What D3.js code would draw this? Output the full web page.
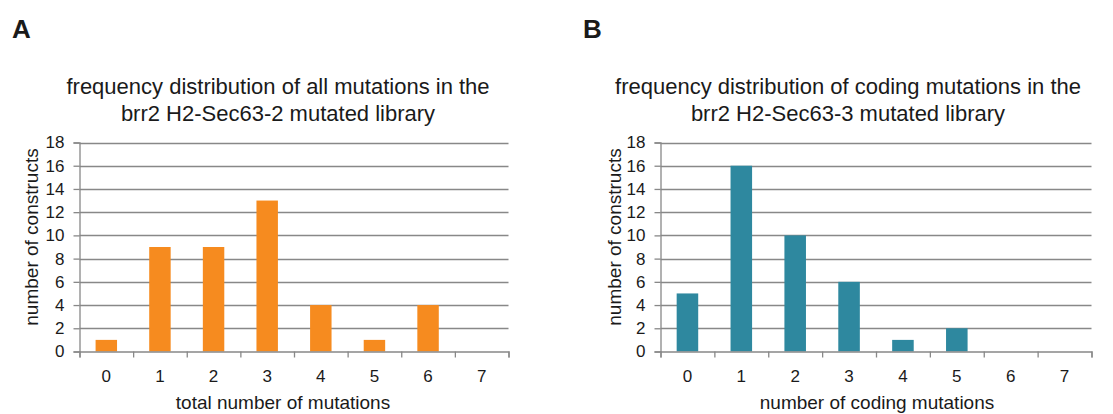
<!DOCTYPE html>
<html>
<head>
<meta charset="utf-8">
<script src="https://cdn.jsdelivr.net/npm/d3@7"></script>
<style>
  body { margin: 0; background: #fff; }
  text { font-family: "Liberation Sans", Arial, sans-serif; fill: #1a1a1a; }
</style>
</head>
<body>
<svg id="chart" width="1113" height="414"></svg>
<script>
// categories on the x axis (same for both panels)
const categories = ['0', '1', '2', '3', '4', '5', '6', '7'];
// panel A: all mutations, panel B: coding mutations
const allMutations = [1, 9, 9, 13, 4, 1, 4, 0];
const codingMutations = [5, 16, 10, 6, 1, 2, 0, 0];
const yTicks = [0, 2, 4, 6, 8, 10, 12, 14, 16, 18];

const svg = d3.select('#chart');

function drawPanel(opts) {
  const x = d3.scaleBand()
    .domain(opts.cats)
    .range([opts.left, opts.right])
    .paddingInner(0.6)
    .paddingOuter(0.3);
  // boundaries between categories, for the tick marks
  const xEdge = d3.scaleLinear()
    .domain([0, opts.cats.length])
    .range([opts.left, opts.right]);
  const y = d3.scaleLinear()
    .domain([0, 18])
    .range([351.5, 142.5]);

  const g = svg.append('g');

  // letter
  g.append('text')
    .attr('x', opts.letterX).attr('y', 38)
    .attr('font-size', 26).attr('font-weight', 'bold')
    .text(opts.letter);

  // title
  const t = g.append('text')
    .attr('text-anchor', 'middle')
    .attr('font-size', 22);
  t.append('tspan').attr('x', opts.titleX).attr('y', 94).text(opts.title[0]);
  t.append('tspan').attr('x', opts.titleX).attr('y', 121).text(opts.title[1]);

  // gridlines
  g.append('g')
    .selectAll('line')
    .data(yTicks.filter(d => d > 0))
    .join('line')
    .attr('x1', opts.left).attr('x2', opts.right)
    .attr('y1', d => Math.round(y(d)) + 0.5)
    .attr('y2', d => Math.round(y(d)) + 0.5)
    .attr('stroke', '#888')
    .attr('stroke-width', 1.3);

  // bars
  g.append('g')
    .attr('fill', opts.color)
    .selectAll('rect')
    .data(opts.values)
    .join('rect')
    .attr('x', (d, i) => x(opts.cats[i]))
    .attr('y', d => y(d))
    .attr('width', x.bandwidth())
    .attr('height', d => y(0) - y(d));

  // y axis
  const yAxis = g.append('g')
    .attr('transform', `translate(${opts.left},0)`)
    .call(d3.axisLeft(y).tickValues(yTicks).tickSize(6).tickPadding(9));
  yAxis.selectAll('text').attr('font-size', 17).style('font-family', '"Liberation Sans", Arial, sans-serif').attr('fill', '#1a1a1a');

  // x axis: ticks at category boundaries
  g.append('g')
    .attr('transform', `translate(0,${y(0)})`)
    .call(d3.axisBottom(xEdge).tickValues(d3.range(opts.cats.length + 1)).tickFormat('').tickSize(6));
  // x axis labels at category centres
  const xLab = g.append('g')
    .attr('transform', `translate(0,${y(0)})`)
    .call(d3.axisBottom(x).tickSize(0).tickPadding(18));
  xLab.select('.domain').remove();
  xLab.selectAll('text').attr('font-size', 17).style('font-family', '"Liberation Sans", Arial, sans-serif').attr('fill', '#1a1a1a');

  g.selectAll('.domain, .tick line').attr('stroke', '#888').attr('stroke-width', 1.3);

  // axis titles
  g.append('text')
    .attr('x', opts.xTitleX).attr('y', 409)
    .attr('text-anchor', 'middle')
    .attr('font-size', 19)
    .text(opts.xTitle);
  g.append('text')
    .attr('transform', `translate(${opts.yTitleX},237) rotate(-90)`)
    .attr('text-anchor', 'middle')
    .attr('font-size', 19)
    .text('number of constructs');
}

drawPanel({
  letter: 'A', letterX: 12,
  title: ['frequency distribution of all mutations in the', 'brr2 H2-Sec63-2 mutated library'],
  titleX: 278,
  cats: categories, values: allMutations,
  color: '#f68b1f',
  left: 79.5, right: 508.5,
  xTitle: 'total number of mutations', xTitleX: 283,
  yTitleX: 38
});

drawPanel({
  letter: 'B', letterX: 583,
  title: ['frequency distribution of coding mutations in the', 'brr2 H2-Sec63-3 mutated library'],
  titleX: 848,
  cats: categories, values: codingMutations,
  color: '#2e889f',
  left: 660.5, right: 1091.5,
  xTitle: 'number of coding mutations', xTitleX: 877,
  yTitleX: 621
});
</script>
</body>
</html>
